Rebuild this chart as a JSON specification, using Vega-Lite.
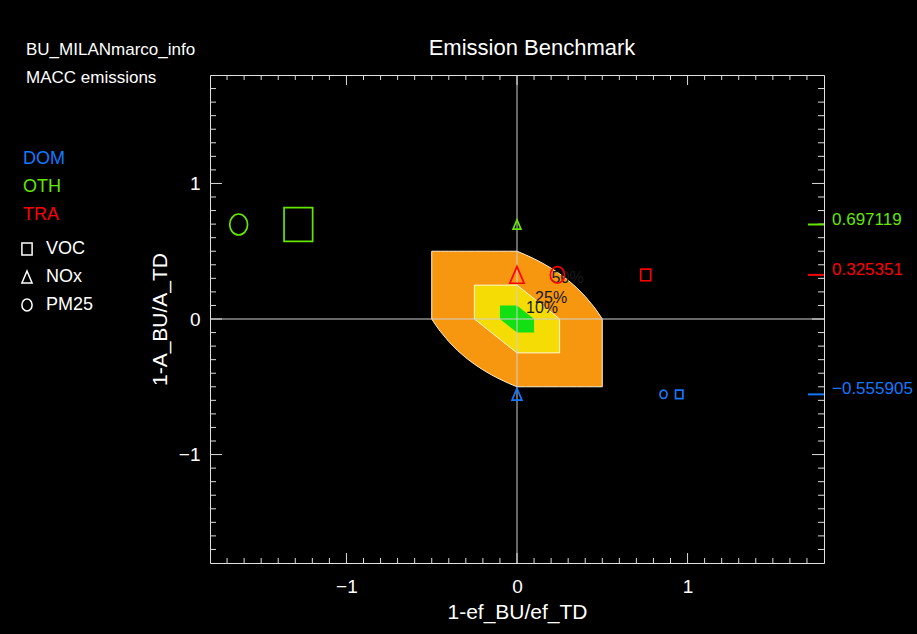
{
  "$schema": "https://vega.github.io/schema/vega-lite/v6.json",
  "width": 614,
  "height": 488,
  "autosize": {"type": "none"},
  "padding": {"left": 210, "top": 75, "right": 93, "bottom": 71},
  "background": "black",
  "config": {
    "font": "Liberation Sans",
    "view": {"stroke": "#e0e0e0", "strokeWidth": 1, "fill": "black"}
  },
  "title": {"text": "Emission Benchmark", "font": "Liberation Sans", "fontSize": 22, "fontWeight": "normal", "color": "white", "anchor": "middle", "frame": "group", "dx": 15, "offset": -35, "baseline": "alphabetic"},
  "datasets": {
    "zones": [
      {"zone": "50%", "x": -0.5, "y": 0.5, "y2": 0},
      {"zone": "50%", "x": -0.475, "y": 0.5, "y2": -0.04762},
      {"zone": "50%", "x": -0.45, "y": 0.5, "y2": -0.09091},
      {"zone": "50%", "x": -0.4, "y": 0.5, "y2": -0.16667},
      {"zone": "50%", "x": -0.35, "y": 0.5, "y2": -0.23077},
      {"zone": "50%", "x": -0.3, "y": 0.5, "y2": -0.28571},
      {"zone": "50%", "x": -0.25, "y": 0.5, "y2": -0.33333},
      {"zone": "50%", "x": -0.2, "y": 0.5, "y2": -0.375},
      {"zone": "50%", "x": -0.15, "y": 0.5, "y2": -0.41176},
      {"zone": "50%", "x": -0.1, "y": 0.5, "y2": -0.44444},
      {"zone": "50%", "x": -0.05, "y": 0.5, "y2": -0.47368},
      {"zone": "50%", "x": 0, "y": 0.5, "y2": -0.5},
      {"zone": "50%", "x": 0.05, "y": 0.47368, "y2": -0.5},
      {"zone": "50%", "x": 0.1, "y": 0.44444, "y2": -0.5},
      {"zone": "50%", "x": 0.15, "y": 0.41176, "y2": -0.5},
      {"zone": "50%", "x": 0.2, "y": 0.375, "y2": -0.5},
      {"zone": "50%", "x": 0.25, "y": 0.33333, "y2": -0.5},
      {"zone": "50%", "x": 0.3, "y": 0.28571, "y2": -0.5},
      {"zone": "50%", "x": 0.35, "y": 0.23077, "y2": -0.5},
      {"zone": "50%", "x": 0.4, "y": 0.16667, "y2": -0.5},
      {"zone": "50%", "x": 0.45, "y": 0.09091, "y2": -0.5},
      {"zone": "50%", "x": 0.475, "y": 0.04762, "y2": -0.5},
      {"zone": "50%", "x": 0.5, "y": 0, "y2": -0.5},
      {"zone": "25%", "x": -0.25, "y": 0.25, "y2": 0},
      {"zone": "25%", "x": 0, "y": 0.25, "y2": -0.25},
      {"zone": "25%", "x": 0.25, "y": 0, "y2": -0.25},
      {"zone": "10%", "x": -0.1, "y": 0.1, "y2": 0},
      {"zone": "10%", "x": 0, "y": 0.1, "y2": -0.1},
      {"zone": "10%", "x": 0.1, "y": 0, "y2": -0.1}
    ],
    "ticks": [
      {"v": -1.7}, {"v": -1.6}, {"v": -1.5}, {"v": -1.4}, {"v": -1.3}, {"v": -1.2}, {"v": -1.1}, {"v": -1},
      {"v": -0.9}, {"v": -0.8}, {"v": -0.7}, {"v": -0.6}, {"v": -0.5}, {"v": -0.4}, {"v": -0.3}, {"v": -0.2}, {"v": -0.1},
      {"v": 0}, {"v": 0.1}, {"v": 0.2}, {"v": 0.3}, {"v": 0.4}, {"v": 0.5}, {"v": 0.6}, {"v": 0.7}, {"v": 0.8}, {"v": 0.9},
      {"v": 1}, {"v": 1.1}, {"v": 1.2}, {"v": 1.3}, {"v": 1.4}, {"v": 1.5}, {"v": 1.6}, {"v": 1.7}
    ],
    "points": [
      {"sector": "DOM", "species": "VOC", "x": 0.951, "y": -0.555905, "share": 0.066},
      {"sector": "DOM", "species": "NOx", "x": 0.0, "y": -0.555905, "share": 0.121},
      {"sector": "DOM", "species": "PM25", "x": 0.859, "y": -0.555905, "share": 0.061},
      {"sector": "OTH", "species": "VOC", "x": -1.282, "y": 0.697119, "share": 1.0},
      {"sector": "OTH", "species": "NOx", "x": 0.0, "y": 0.697119, "share": 0.077},
      {"sector": "OTH", "species": "PM25", "x": -1.632, "y": 0.697119, "share": 0.39},
      {"sector": "TRA", "species": "VOC", "x": 0.755, "y": 0.325351, "share": 0.121},
      {"sector": "TRA", "species": "NOx", "x": 0.0, "y": 0.325351, "share": 0.247},
      {"sector": "TRA", "species": "PM25", "x": 0.237, "y": 0.325351, "share": 0.247}
    ],
    "zonelabels": [
      {"label": "50%", "x": 0.203, "y": 0.268},
      {"label": "25%", "x": 0.106, "y": 0.12},
      {"label": "10%", "x": 0.053, "y": 0.046}
    ]
  },
  "layer": [
    {
      "data": {"name": "zones"},
      "transform": [{"filter": "datum.zone === '50%'"}],
      "mark": {"type": "area", "fill": "#f7960f", "stroke": "#fff0d0", "strokeWidth": 1, "opacity": 1},
      "encoding": {
        "x": {"field": "x", "type": "quantitative",
          "scale": {"domain": [-1.8, 1.8], "nice": false, "zero": false},
          "axis": {"title": "1-ef_BU/ef_TD", "values": [-1, 0, 1], "format": "d", "ticks": false, "domain": false, "grid": false,
            "labelColor": "white", "labelFontSize": 19, "labelPadding": 14, "labelFlush": false,
            "titleColor": "white", "titleFontSize": 21, "titleFontWeight": "normal", "titlePadding": 5}},
        "y": {"field": "y", "type": "quantitative",
          "scale": {"domain": [-1.8, 1.8], "nice": false, "zero": false},
          "axis": {"title": "1-A_BU/A_TD", "values": [-1, 0, 1], "format": "d", "ticks": false, "domain": false, "grid": false,
            "labelColor": "white", "labelFontSize": 19, "labelPadding": 10, "labelFlush": false,
            "titleColor": "white", "titleFontSize": 21, "titleFontWeight": "normal", "titlePadding": 8}},
        "y2": {"field": "y2"}
      }
    },
    {
      "data": {"name": "zones"},
      "transform": [{"filter": "datum.zone === '25%'"}],
      "mark": {"type": "area", "fill": "#f5dc05", "stroke": "#fff8d8", "strokeWidth": 1, "opacity": 1},
      "encoding": {
        "x": {"field": "x", "type": "quantitative"},
        "y": {"field": "y", "type": "quantitative"},
        "y2": {"field": "y2"}
      }
    },
    {
      "data": {"name": "zones"},
      "transform": [{"filter": "datum.zone === '10%'"}],
      "mark": {"type": "area", "fill": "#12e012", "opacity": 1},
      "encoding": {
        "x": {"field": "x", "type": "quantitative"},
        "y": {"field": "y", "type": "quantitative"},
        "y2": {"field": "y2"}
      }
    },
    {
      "data": {"values": [{}]},
      "mark": {"type": "rule", "color": "#d0d0d0", "strokeWidth": 1},
      "encoding": {"x": {"datum": 0}}
    },
    {
      "data": {"values": [{}]},
      "mark": {"type": "rule", "color": "#d0d0d0", "strokeWidth": 1},
      "encoding": {"y": {"datum": 0}}
    },
    {
      "data": {"name": "ticks"},
      "mark": {"type": "tick", "orient": "vertical", "clip": true, "color": "#dcdcdc", "thickness": 1, "opacity": 1},
      "encoding": {
        "x": {"field": "v", "type": "quantitative"},
        "y": {"datum": -1.8},
        "size": {"condition": {"test": "datum.v === 0 || abs(datum.v) === 1", "value": 20}, "value": 10}
      }
    },
    {
      "data": {"name": "ticks"},
      "mark": {"type": "tick", "orient": "vertical", "clip": true, "color": "#dcdcdc", "thickness": 1, "opacity": 1},
      "encoding": {
        "x": {"field": "v", "type": "quantitative"},
        "y": {"datum": 1.8},
        "size": {"condition": {"test": "datum.v === 0 || abs(datum.v) === 1", "value": 20}, "value": 10}
      }
    },
    {
      "data": {"name": "ticks"},
      "mark": {"type": "tick", "orient": "horizontal", "clip": true, "color": "#dcdcdc", "thickness": 1, "opacity": 1},
      "encoding": {
        "y": {"field": "v", "type": "quantitative"},
        "x": {"datum": -1.8},
        "size": {"condition": {"test": "datum.v === 0 || abs(datum.v) === 1", "value": 24}, "value": 12}
      }
    },
    {
      "data": {"name": "ticks"},
      "mark": {"type": "tick", "orient": "horizontal", "clip": true, "color": "#dcdcdc", "thickness": 1, "opacity": 1},
      "encoding": {
        "y": {"field": "v", "type": "quantitative"},
        "x": {"datum": 1.8},
        "size": {"condition": {"test": "datum.v === 0 || abs(datum.v) === 1", "value": 24}, "value": 12}
      }
    },
    {
      "data": {"name": "zonelabels"},
      "mark": {"type": "text", "color": "#1a1a1a", "fontSize": 16, "align": "left", "baseline": "alphabetic"},
      "encoding": {
        "x": {"field": "x", "type": "quantitative"},
        "y": {"field": "y", "type": "quantitative"},
        "text": {"field": "label"}
      }
    },
    {
      "data": {"name": "points"},
      "mark": {"type": "point", "filled": false, "strokeWidth": 1.7, "opacity": 1},
      "encoding": {
        "x": {"field": "x", "type": "quantitative"},
        "y": {"field": "y", "type": "quantitative"},
        "color": {"field": "sector", "type": "nominal",
          "scale": {"domain": ["DOM", "OTH", "TRA"], "range": ["#1478ff", "#64e600", "#ff0000"]},
          "legend": {"orient": "none", "legendX": -184, "legendY": -33,
            "title": ["BU_MILANmarco_info", "MACC emissions"], "titleColor": "white", "titleFontSize": 17,
            "titleFontWeight": "normal", "titleLineHeight": 28, "titleBaseline": "top", "titlePadding": 63, "titleLimit": 400,
            "labelFontSize": 18, "labelOffset": -21, "labelColor": {"expr": "scale('color', datum.value)"},
            "symbolOpacity": 0, "symbolSize": 0, "symbolStrokeWidth": 0, "rowPadding": 10, "padding": 0}},
        "shape": {"field": "species", "type": "nominal",
          "scale": {"domain": ["VOC", "NOx", "PM25"],
            "range": ["M-0.85,-1H0.85V1H-0.85Z", "M0,-1L0.85,1L-0.85,1Z", "M0.85,0A0.85,1,0,1,1,-0.85,0A0.85,1,0,1,1,0.85,0Z"]},
          "legend": {"orient": "none", "legendX": -192, "legendY": 165, "title": null,
            "labelFontSize": 18, "labelColor": "white", "labelOffset": 10,
            "symbolSize": 144, "symbolStrokeColor": "white", "symbolFillColor": "transparent", "symbolStrokeWidth": 1.5,
            "rowPadding": 10, "padding": 0}},
        "size": {"field": "share", "type": "quantitative", "scale": {"domain": [0, 1], "range": [0, 1130]}, "legend": null}
      }
    },
    {
      "data": {"name": "points"},
      "transform": [{"aggregate": [{"op": "mean", "field": "y", "as": "ym"}], "groupby": ["sector"]}],
      "layer": [
        {
          "mark": {"type": "tick", "orient": "horizontal", "clip": true, "thickness": 2, "size": 32, "opacity": 1},
          "encoding": {
            "x": {"datum": 1.8},
            "y": {"field": "ym", "type": "quantitative"},
            "color": {"field": "sector", "type": "nominal"}
          }
        },
        {
          "mark": {"type": "text", "align": "left", "baseline": "alphabetic", "dx": 8, "fontSize": 17},
          "encoding": {
            "x": {"datum": 1.8},
            "y": {"field": "ym", "type": "quantitative"},
            "text": {"field": "ym", "type": "quantitative", "format": ".6f"},
            "color": {"field": "sector", "type": "nominal"}
          }
        }
      ]
    }
  ]
}
